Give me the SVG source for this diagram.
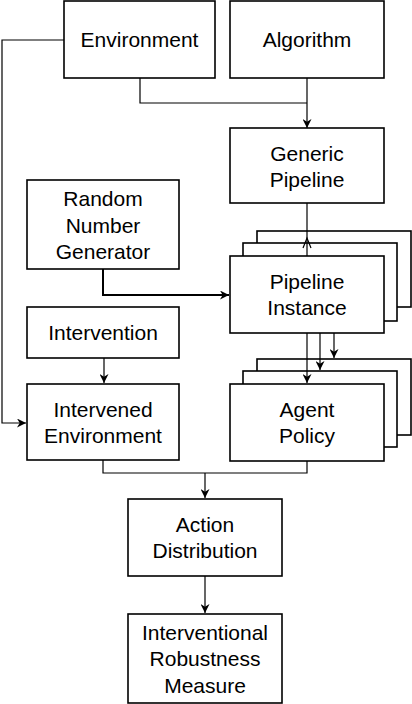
<svg xmlns="http://www.w3.org/2000/svg" width="412" height="704" viewBox="0 0 412 704">
<defs>
<marker id="ah" viewBox="0 0 10 10" refX="10" refY="5" markerWidth="9" markerHeight="9" markerUnits="userSpaceOnUse" orient="auto">
<path d="M0,0 L10,5 L0,10 L3,5 Z" fill="#000"/>
</marker>
</defs>
<style>
.box{fill:#fff;stroke:#000;stroke-width:1.6}
.c{fill:none;stroke:#000;stroke-width:1.2}
.t{font-family:"Liberation Sans",Arial,sans-serif;font-size:21px;fill:#000;text-anchor:middle}
</style>
<rect width="412" height="704" fill="#fff"/>
<g id="environment">
<rect class="box" x="64" y="1" width="151" height="77"/>
<text class="t" x="139.5" y="47">Environment</text>
</g>
<g id="algorithm">
<rect class="box" x="230" y="1" width="154" height="77"/>
<text class="t" x="307" y="47">Algorithm</text>
</g>
<g id="generic-pipeline">
<rect class="box" x="230" y="128" width="154" height="75"/>
<text class="t" x="307" y="161">Generic</text>
<text class="t" x="307" y="187">Pipeline</text>
</g>
<g id="pipeline-instance">
<rect class="box" x="257" y="231" width="154" height="76"/>
<rect class="box" x="243" y="243" width="154" height="78"/>
<rect class="box" x="230" y="256" width="154" height="77"/>
<text class="t" x="307" y="289">Pipeline</text>
<text class="t" x="307" y="315">Instance</text>
</g>
<g id="rng">
<rect class="box" x="27" y="180" width="152" height="89"/>
<text class="t" x="103" y="206">Random</text>
<text class="t" x="103" y="233">Number</text>
<text class="t" x="103" y="259">Generator</text>
</g>
<g id="intervention">
<rect class="box" x="27" y="307" width="152" height="51"/>
<text class="t" x="103" y="340">Intervention</text>
</g>
<g id="intervened-environment">
<rect class="box" x="27" y="384" width="152" height="76"/>
<text class="t" x="103" y="417">Intervened</text>
<text class="t" x="103" y="443">Environment</text>
</g>
<g id="agent-policy">
<rect class="box" x="257" y="359" width="154" height="76"/>
<rect class="box" x="243" y="371" width="154" height="76"/>
<rect class="box" x="230" y="384" width="154" height="77"/>
<text class="t" x="307" y="417">Agent</text>
<text class="t" x="307" y="443">Policy</text>
</g>
<g id="action-distribution">
<rect class="box" x="128" y="499" width="154" height="77"/>
<text class="t" x="205" y="532">Action</text>
<text class="t" x="205" y="558">Distribution</text>
</g>
<g id="irm">
<rect class="box" x="128" y="614" width="154" height="89"/>
<text class="t" x="205" y="640">Interventional</text>
<text class="t" x="205" y="666">Robustness</text>
<text class="t" x="205" y="693">Measure</text>
</g>
<g id="connectors">
<path class="c" d="M64,40 H2 V423 H26" marker-end="url(#ah)"/>
<path class="c" d="M140,78 V103 H307"/>
<path class="c" d="M307,78 V128" marker-end="url(#ah)"/>
<path class="c" d="M307,203 V256"/>
<path d="M303,248 L307,238 L311,248" fill="none" stroke="#000" stroke-width="1.2"/>
<path class="c" d="M103,269 V295 H229" style="stroke-width:2" marker-end="url(#ah)"/>
<path class="c" d="M104,358 V383" marker-end="url(#ah)"/>
<path class="c" d="M307,333 V383" marker-end="url(#ah)"/>
<path class="c" d="M320,333 V370" marker-end="url(#ah)"/>
<path class="c" d="M334,333 V358" marker-end="url(#ah)"/>
<path class="c" d="M103,460 V473 H307 V461"/>
<path class="c" d="M205,473 V498" marker-end="url(#ah)"/>
<path class="c" d="M205,576 V613" marker-end="url(#ah)"/>
</g>
</svg>
